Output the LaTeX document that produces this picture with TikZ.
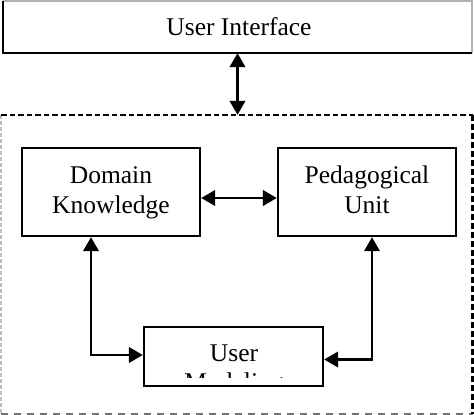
\documentclass[tikz,border=0pt]{standalone}
\usepackage{fontspec}
\setmainfont{Liberation Serif}
\usetikzlibrary{arrows.meta}
\begin{document}
\begin{tikzpicture}[x=1pt,y=-1pt,
  box/.style={draw, line width=2.4pt, inner sep=0pt, align=center, font=\fontsize{25.5}{30}\selectfont},
  txt/.style={inner sep=0pt, font=\fontsize{25.5}{30}\selectfont},
  arr/.style={line width=2.4pt, {Triangle[length=14pt,width=15.5pt]}-{Triangle[length=14pt,width=15.5pt]}}]
\useasboundingbox (0,0) rectangle (474,415);
% user interface
\node[inner sep=0pt, minimum width=469pt, minimum height=52pt] (ui) at (237.5,27) {};
\draw[line width=2pt, black!30] (ui.north west) -- (ui.north east) -- (ui.south east);
\draw[line width=2.4pt] (ui.north west) -- (ui.south west) -- (ui.south east);
\node[txt, anchor=base] (uit) at (239,35) {User Interface};
% dashed system box
\node[inner sep=0pt, minimum width=471pt, minimum height=299pt] (sys) at (237,264.5) {};
\draw[line width=2pt, black!25, dash pattern=on 4pt off 2pt] (sys.north west) -- (sys.south west);
\draw[line width=2.4pt, black!55, dash pattern=on 7pt off 6pt] (sys.south west) -- (sys.south east);
\draw[line width=2.4pt, dash pattern=on 5.5pt off 3pt] (sys.north west) -- (sys.north east);
\draw[line width=3pt, dash pattern=on 6pt off 3pt] (sys.north east) -- (sys.south east);
\draw[arr] (ui.south) -- (ui.south |- sys.north);
% inner boxes
\node[box, minimum width=178pt, minimum height=88pt] (dk) at (111,192) {\strut Domain\\\strut Knowledge};
\node[box, minimum width=178pt, minimum height=88pt] (pu) at (367,192) {\strut Pedagogical\\\strut Unit};
\node[box, minimum width=179pt, minimum height=59pt] (um) at (233.5,356.5) {};
\node[txt, anchor=base] (umt) at (234,361) {User};
\begin{scope}
\clip (150,366) rectangle (318,377);
\node[txt, anchor=base] (umt2) at (234,390) {Modeling};
\end{scope}
% connectors
\draw[arr] ([yshift=-6pt]dk.east) -- ([yshift=-6pt]pu.west);
\draw[arr] ([xshift=-20pt]dk.south) |- ([yshift=1.5pt]um.west);
\draw[arr] ([xshift=5pt]pu.south) |- ([yshift=-3pt]um.east);
\end{tikzpicture}
\end{document}
